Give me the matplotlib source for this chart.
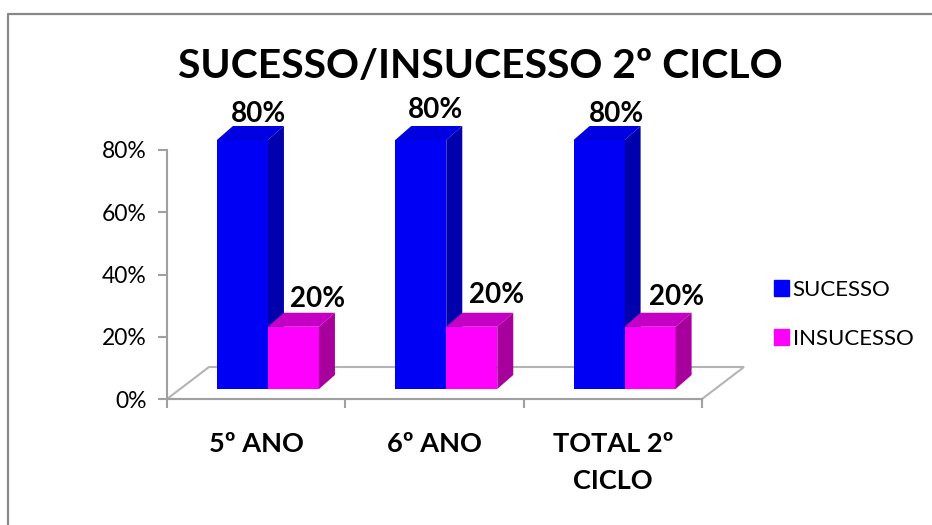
import matplotlib
matplotlib.use("Agg")
import matplotlib.pyplot as plt
from matplotlib.patches import Polygon, Rectangle
from matplotlib.lines import Line2D

plt.rcParams['font.family'] = ['Lato', 'DejaVu Sans']

titulo = "SUCESSO/INSUCESSO 2º CICLO"
categorias = ["5º ANO", "6º ANO", "TOTAL 2º\nCICLO"]
sucesso = [80, 80, 80]
insucesso = [20, 20, 20]
series_nomes = ["SUCESSO", "INSUCESSO"]
y_ticks = [0, 20, 40, 60, 80]

W, H = 932, 525
# axis box in pixels
AX_L, AX_R, AX_B, AX_T = 167, 702, 399, 150
PX_X = (AX_R - AX_L) / 3
PX_Y = (AX_B - AX_T) / 80


def dx(px):
    return px / PX_X


def dy(px):
    return px / PX_Y


fig = plt.figure(figsize=(W / 100, H / 100), dpi=100, facecolor="white")
ax = fig.add_axes([AX_L / W, 1 - AX_B / H, (AX_R - AX_L) / W, (AX_B - AX_T) / H])
ax.set_xlim(0, 3)
ax.set_ylim(0, 80)
ax.patch.set_visible(False)
for s in ["top", "right"]:
    ax.spines[s].set_visible(False)
for s in ["left", "bottom"]:
    ax.spines[s].set_color("#a0a0a0")
    ax.spines[s].set_linewidth(1.5)

# floor
floor_d = (dx(42), dy(32))
ax.add_patch(Polygon([(0, 0), (floor_d[0], floor_d[1]), (3 + floor_d[0], floor_d[1]), (3, 0)],
                     closed=True, facecolor="white", edgecolor="#b4b4b4", lw=1.5,
                     clip_on=False, zorder=1))

ax.set_yticks(y_ticks)
ax.set_yticklabels([f"{v}%" for v in y_ticks], fontsize=16.5)
ax.set_xticks([0, 1, 2, 3])
ax.set_xticklabels([])
ax.set_xticks([0.5, 1.5, 2.5], minor=True)
ax.set_xticklabels(categorias, minor=True, fontsize=19.5, fontweight="bold", linespacing=1.65, va="top")
ax.tick_params(axis="both", which="major", color="#a0a0a0", width=1.5, length=6.5)
ax.tick_params(axis="x", which="minor", length=0, pad=23.5)
ax.tick_params(axis="y", which="major", pad=8)


def bar3d(x0, val, front, top, side, w, base):
    ddx, ddy = dx(16), dy(14)
    ax.bar(x0, val, width=w, bottom=base, align="edge", color=front, zorder=3, clip_on=False)
    t = base + val
    ax.add_patch(Polygon([(x0, t), (x0 + ddx, t + ddy), (x0 + w + ddx, t + ddy), (x0 + w, t)],
                         closed=True, facecolor=top, edgecolor="none", clip_on=False, zorder=3))
    ax.add_patch(Polygon([(x0 + w, base), (x0 + w + ddx, base + ddy), (x0 + w + ddx, t + ddy), (x0 + w, t)],
                         closed=True, facecolor=side, edgecolor="none", clip_on=False, zorder=3))


bar_w = 51 / PX_X
base = dy(10)
label_nudge_s = [(0, 0), (-1, 4), (2, 0)]
label_nudge_i = [(0, 0), (0, 4), (2, 2)]

for i in range(len(categorias)):
    xc = i + 0.566
    # blue goes first so pink sits over it
    bar3d(xc - bar_w, sucesso[i], "#0000f4", "#0000e0", "#0000ac", bar_w, base)
    bar3d(xc, insucesso[i], "#ff00ff", "#c400c4", "#a8009c", bar_w, base)
    ax.annotate(f"{sucesso[i]}%", (xc, base + sucesso[i]),
                xytext=(-7 + label_nudge_s[i][0] * .72, 9.5 + label_nudge_s[i][1] * .72),
                textcoords="offset points", ha="center", va="bottom", fontsize=20,
                fontweight="bold", zorder=5, annotation_clip=False)
    ax.annotate(f"{insucesso[i]}%", (xc, base + insucesso[i]),
                xytext=(36 + label_nudge_i[i][0] * .72, 10.5 + label_nudge_i[i][1] * .72),
                textcoords="offset points", ha="center", va="bottom", fontsize=20,
                fontweight="bold", zorder=5, annotation_clip=False)

# legend and title
handles = [Rectangle((0, 0), 1, 1, color="#0000ff"), Rectangle((0, 0), 1, 1, color="#ff00ff")]
fig.legend(handles, series_nomes, loc="upper left", bbox_to_anchor=(765 / W, 1 - 271 / H),
           frameon=False, fontsize=16, handlelength=0.7, handleheight=0.7, handletextpad=0.15,
           labelspacing=1.3, borderpad=0.4, borderaxespad=0)
fig.text(480 / W, 1 - 66 / H, titulo, ha="center", va="center", fontsize=29.4, fontweight="bold")

# page border, top and left only
fig.add_artist(Line2D([8 / W, 8 / W, 1], [0, 1 - 14 / H, 1 - 14 / H], color="#888888", lw=1.6))

fig.savefig("out.png", dpi=100)
